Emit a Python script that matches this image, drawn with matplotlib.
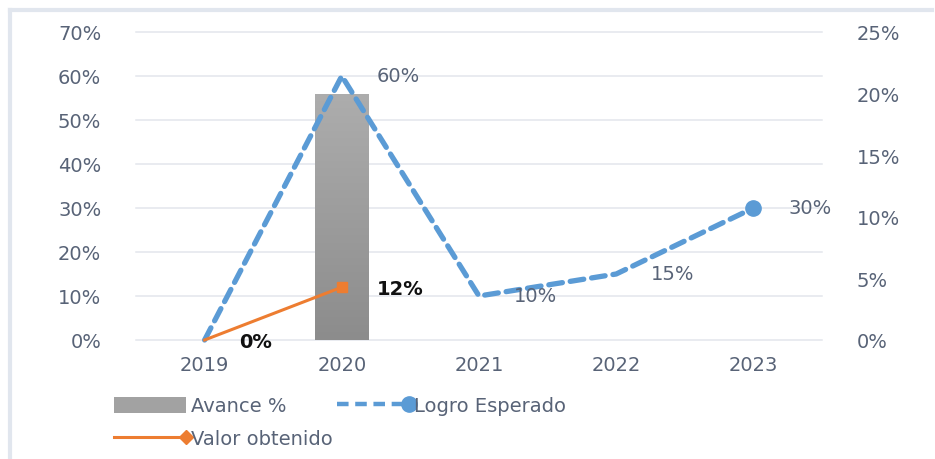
import numpy as np
import matplotlib
matplotlib.use('Agg')
from matplotlib import pyplot as plt
from matplotlib.lines import Line2D
from matplotlib.patches import Patch
from matplotlib.legend_handler import HandlerLine2D

# datos
years = ['2019', '2020', '2021', '2022', '2023']
avance = [np.nan, 0.20, np.nan, np.nan, np.nan]          # eje derecho
logro = [0.0, 0.60, 0.10, 0.15, 0.30]                    # eje izquierdo
valor = [0.0, 0.12]                                       # eje izquierdo
logro_labels = [None, '60%', '10%', '15%', '30%']
valor_labels = ['0%', '12%']
left_ticks = [0, 0.1, 0.2, 0.3, 0.4, 0.5, 0.6, 0.7]
right_ticks = [0, 0.05, 0.10, 0.15, 0.20, 0.25]

txt_col = '#586377'
blue = '#5b9bd5'
orange = '#ed7d31'
grid_col = '#e3e6ec'
fs = 14


class EndMarker(HandlerLine2D):
    # marcador al final de la linea, como en excel
    def create_artists(self, *args, **kwargs):
        arts = super().create_artists(*args, **kwargs)
        for a in arts:
            if len(a.get_xdata()) == 3:
                a.set_markevery([2])
        return arts


def pct(v, pos=None):
    return '%d%%' % round(v * 100)


def main():
    plt.rcParams['font.family'] = ['DejaVu Sans']
    fig = plt.figure(figsize=(9.35, 4.6), dpi=100)
    rect = [136 / 935, 1 - 341 / 460, 686 / 935, 308 / 460]
    x = np.arange(len(years))

    # eje base: grilla y ticks izquierdos
    ax = fig.add_axes(rect)
    ax.set_xlim(-0.5, len(years) - 0.5)
    ax.set_ylim(0, 0.7)
    ax.set_yticks(left_ticks)
    ax.yaxis.set_major_formatter(plt.FuncFormatter(pct))
    ax.set_xticks(x)
    ax.set_xticklabels(years)
    ax.grid(axis='y', color=grid_col, lw=1.1)
    for gl in ax.get_ygridlines():
        gl.set_clip_on(False)
    ax.set_axisbelow(True)
    ax.tick_params(axis='y', length=0, pad=25, labelsize=fs, labelcolor=txt_col)
    ax.tick_params(axis='x', length=0, pad=11, labelsize=fs, labelcolor=txt_col)
    for s in ax.spines.values():
        s.set_visible(False)
    ax.set_zorder(0)

    # eje derecho: barra
    ax2 = ax.twinx()
    ax2.set_zorder(1)
    ax2.patch.set_visible(False)
    bars = ax2.bar(x, avance, width=0.39, color='#a2a2a2', label='Avance %')
    ax2.set_ylim(0, 0.25)
    ax2.set_yticks(right_ticks)
    ax2.yaxis.set_major_formatter(plt.FuncFormatter(pct))
    ax2.tick_params(axis='y', length=0, pad=25, labelsize=fs, labelcolor=txt_col)
    for s in ax2.spines.values():
        s.set_visible(False)
    # degradado gris dentro de la barra
    grad = np.linspace(0, 1, 256).reshape(-1, 1)
    cmap = matplotlib.colors.LinearSegmentedColormap.from_list('g', ['#8c8c8c', '#adadad'])
    for b in bars:
        if b.get_height() > 0:
            im = ax2.imshow(grad, cmap=cmap, origin='lower', aspect='auto',
                            extent=[b.get_x(), b.get_x() + b.get_width(), 0, b.get_height()],
                            zorder=2)
            im.set_clip_path(b)
    ax2.set_xlim(-0.5, len(years) - 0.5)
    ax2.set_ylim(0, 0.25)

    # eje superior: lineas
    ax3 = fig.add_axes(rect, sharex=ax, sharey=ax)
    ax3.set_zorder(2)
    ax3.patch.set_visible(False)
    ax3.axis('off')
    ax3.plot(x, logro, color=blue, lw=3.8, ls=(0, (2.6, 1.5)),
             dash_capstyle='round', marker='o', ms=11, markevery=[4],
             label='Logro Esperado', clip_on=False)
    ax3.plot(x[:len(valor)], valor, color=orange, lw=2.2, marker='s', ms=7,
             markevery=[1], label='Valor obtenido', clip_on=False)
    for xi, v, t in zip(x, logro, logro_labels):
        if t:
            ax3.annotate(t, (xi, v), xytext=(25, 0), textcoords='offset points',
                         ha='left', va='center', fontsize=fs, color=txt_col)
    for xi, v, t in zip(x, valor, valor_labels):
        ax3.annotate(t, (xi, v), xytext=(25, -1), textcoords='offset points',
                     ha='left', va='center', fontsize=fs, color='#111111',
                     fontweight='bold')

    # leyenda (dos filas como en excel)
    h_av = Patch(facecolor='#a2a2a2', edgecolor='none')
    h_lo = Line2D([], [], color=blue, lw=3.2, ls=(0, (2.6, 1.5)), marker='o', ms=11)
    h_va = Line2D([], [], color=orange, lw=2.2, marker='D', ms=7)
    opts = dict(loc='center left', frameon=False, fontsize=fs, handlelength=3.7,
                handleheight=0.9, handletextpad=0.25, borderaxespad=0, borderpad=0,
                handler_map={Line2D: EndMarker()})
    leg1 = fig.legend([h_av, h_lo], ['Avance %', 'Logro Esperado'], ncol=2,
                      columnspacing=2.6, bbox_to_anchor=(114 / 935, 1 - 407 / 460), **opts)
    leg2 = fig.legend([h_va], ['Valor obtenido'],
                      bbox_to_anchor=(114 / 935, 1 - 440 / 460), **opts)
    for leg in (leg1, leg2):
        for t in leg.get_texts():
            t.set_color(txt_col)

    # marco de la figura
    fig.add_artist(Line2D([10 / 935, 10 / 935], [0, 1 - 11 / 460], color='#e1e6ee', lw=3))
    fig.add_artist(Line2D([10 / 935, 932 / 935], [1 - 11 / 460, 1 - 11 / 460], color='#e1e6ee', lw=3))

    plt.savefig('out.png', dpi=100)


if __name__ == '__main__':
    main()
